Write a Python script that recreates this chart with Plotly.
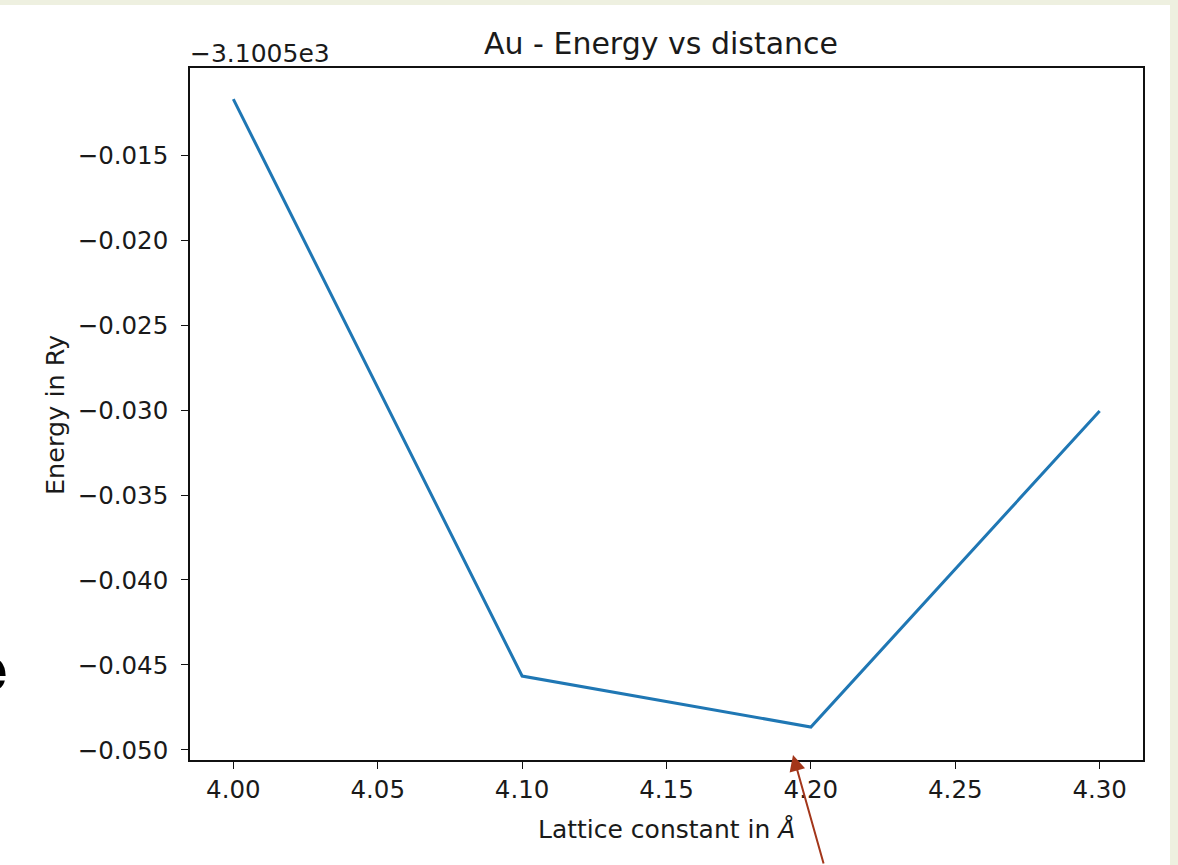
import plotly.graph_objects as go

# Data
lattice_constant = [4.00, 4.10, 4.20, 4.30]
energy_ry = [-3100.51171, -3100.54565, -3100.54865, -3100.53006]
offset = -3100.5
offset_label = "\u22123.1005e3"

x_ticks = [4.00, 4.05, 4.10, 4.15, 4.20, 4.25, 4.30]
y_ticks = [-0.015, -0.020, -0.025, -0.030, -0.035, -0.040, -0.045, -0.050]

W, H = 1178, 865
L, R, T, B = 190, 35, 68, 105
pw, ph = W - L - R, H - T - B

def px_x(px):
    return (px - L) / pw

def px_y(py):
    return (H - B - py) / ph

y_rel = [e - offset for e in energy_ry]

FONT = "DejaVu Sans"
TXT = "#1a1a1a"
TICK = 24.5

fig = go.Figure()
fig.add_trace(go.Scatter(
    x=lattice_constant, y=y_rel, mode="lines",
    line=dict(color="#1f77b4", width=3),
    showlegend=False, hoverinfo="skip",
))

axis_common = dict(
    showline=True, mirror=True, linecolor="#111111", linewidth=1.6,
    ticks="outside", ticklen=7, tickwidth=1.4, tickcolor="#111111",
    showgrid=False, zeroline=False,
    tickfont=dict(family=FONT, size=TICK, color=TXT),
)

fig.update_layout(
    width=W, height=H, autosize=False,
    margin=dict(l=L, r=R, t=T, b=B, pad=0),
    paper_bgcolor="#eef0e0",
    plot_bgcolor="white",
    xaxis=dict(
        range=[3.985, 4.315],
        tickvals=x_ticks,
        ticktext=[f"{v:.2f}" for v in x_ticks],
        ticklabelstandoff=0,
        **axis_common,
    ),
    yaxis=dict(
        range=[-0.05059, -0.00988],
        tickvals=y_ticks,
        ticktext=[f"{v:.3f}".replace("-", "\u2212") for v in y_ticks],
        ticklabelstandoff=8,
        **axis_common,
    ),
    shapes=[
        dict(type="rect", xref="paper", yref="paper", layer="below",
             x0=px_x(0), x1=px_x(1170), y0=px_y(866), y1=px_y(5),
             fillcolor="white", line=dict(width=0)),
    ],
)

annotations = [
    dict(text="Au - Energy vs distance", x=px_x(661), y=px_y(44), xref="paper", yref="paper",
         xanchor="center", yanchor="middle", showarrow=False,
         font=dict(family=FONT, size=30, color=TXT)),
    dict(text=offset_label, x=px_x(188), y=px_y(54), xref="paper", yref="paper",
         xanchor="left", yanchor="middle", showarrow=False,
         font=dict(family=FONT, size=25, color=TXT)),
    dict(text="Lattice constant in <i>Å</i>", x=0.5, y=px_y(829), xref="paper", yref="paper",
         xanchor="center", yanchor="middle", showarrow=False,
         font=dict(family=FONT, size=25, color=TXT)),
    dict(text="Energy in Ry", x=px_x(55), y=px_y(415), xref="paper", yref="paper",
         xanchor="center", yanchor="middle", showarrow=False, textangle=-90,
         font=dict(family=FONT, size=25.5, color=TXT)),
    dict(text="<b>e</b>", x=px_x(10), y=px_y(668), xref="paper", yref="paper",
         xanchor="right", yanchor="middle", showarrow=False,
         font=dict(family="DejaVu Serif", size=62, color="black")),
    dict(text="", x=px_x(793), y=px_y(755), xref="paper", yref="paper",
         showarrow=True, ax=31, ay=118, axref="pixel", ayref="pixel",
         arrowhead=2, arrowsize=1.6, arrowwidth=2, arrowcolor="#a3361a"),
]
fig.update_layout(annotations=annotations)

fig.write_html("out.html",
               config={"displayModeBar": False},
               post_script="document.body.style.margin='0';document.body.style.overflow='hidden';")
